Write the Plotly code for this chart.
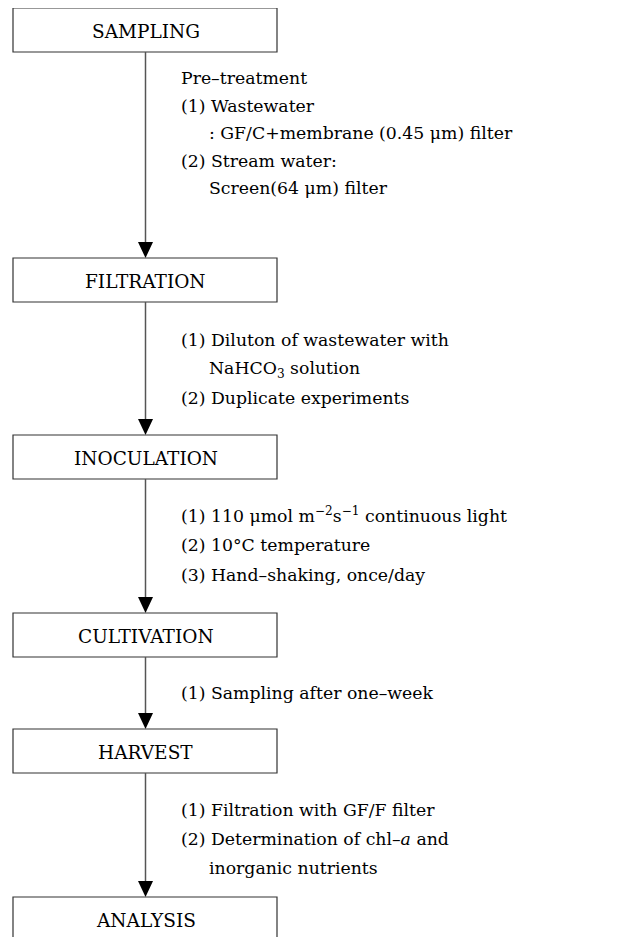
import plotly.graph_objects as go

# ---- data ----
steps = ["SAMPLING", "FILTRATION", "INOCULATION", "CULTIVATION", "HARVEST", "ANALYSIS"]
notes = [
    [(0, "Pre–treatment"), (0, "(1) Wastewater"), (1, ": GF/C+membrane (0.45 μm) filter"),
     (0, "(2) Stream water:"), (1, "Screen(64 μm) filter")],
    [(0, "(1) Diluton of wastewater with"), (1, "NaHCO<sub>3</sub> solution"),
     (0, "(2) Duplicate experiments")],
    [(0, "(1) 110 μmol m<sup>−2</sup>s<sup>−1</sup> continuous light"), (0, "(2) 10°C temperature"),
     (0, "(3) Hand–shaking, once/day")],
    [(0, "(1) Sampling after one–week")],
    [(0, "(1) Filtration with GF/F filter"), (0, "(2) Determination of chl–<i>a</i> and"),
     (1, "inorganic nutrients")],
]

# ---- layout positions (pixels in page) ----
W, H = 623, 937
OFF = 8  # page body margin
box_x0, box_x1 = 13, 277
cx = 145.5
box_top = [8, 258, 435, 613, 729, 897]
box_h = 44
note_first_y = [78, 340, 515, 693, 810]
note_dy = [27.5, 29, 30, 29, 29]
text_x = [179, 207]
FONT = "DejaVu Serif"

fig = go.Figure()
shapes = []
annotations = []

for i, (lab, top) in enumerate(zip(steps, box_top)):
    shapes.append(dict(type="rect", xref="x", yref="y", x0=box_x0, x1=box_x1,
                       y0=top, y1=top + box_h,
                       line=dict(color="#333333", width=1.2), fillcolor="white", layer="above"))
    annotations.append(dict(x=cx, y=top + box_h / 2 + 1, xref="x", yref="y", text=lab,
                            showarrow=False, xanchor="center", yanchor="middle",
                            font=dict(family=FONT, size=18.5, color="black")))
    if i < len(steps) - 1:
        y_start = top + box_h
        y_end = box_top[i + 1]
        shapes.append(dict(type="line", xref="x", yref="y", x0=cx, x1=cx,
                           y0=y_start, y1=y_end - 10,
                           line=dict(color="#555555", width=1.5)))
        shapes.append(dict(type="path", xref="x", yref="y",
                           path=f"M {cx-7.5},{y_end-16} L {cx+7.5},{y_end-16} L {cx},{y_end} Z",
                           fillcolor="black", line=dict(color="black", width=0)))

for blk, y0, dy in zip(notes, note_first_y, note_dy):
    for j, (lvl, txt) in enumerate(blk):
        annotations.append(dict(x=text_x[lvl], y=y0 + j * dy, xref="x", yref="y", text=txt,
                                showarrow=False, xanchor="left", yanchor="middle",
                                font=dict(family=FONT, size=17.3, color="black")))

fig.update_layout(
    width=W, height=H, margin=dict(l=0, r=0, t=0, b=0),
    paper_bgcolor="white", plot_bgcolor="white",
    xaxis=dict(range=[OFF, W + OFF], visible=False, fixedrange=True),
    yaxis=dict(range=[H + OFF, OFF], visible=False, fixedrange=True),
    shapes=shapes, annotations=annotations, showlegend=False,
)
fig.write_html("out.html", config={"displayModeBar": False})
